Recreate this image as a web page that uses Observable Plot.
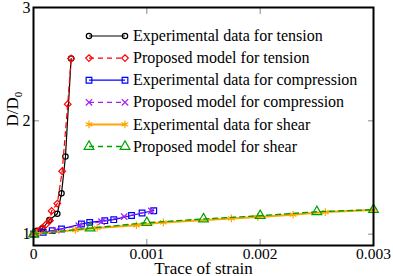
<!DOCTYPE html>
<html>
<head>
<meta charset="utf-8">
<script src="https://cdn.jsdelivr.net/npm/d3@7"></script>
<script src="https://cdn.jsdelivr.net/npm/@observablehq/plot@0.6"></script>
<style>
  html, body { margin: 0; padding: 0; background: #fff; }
  #chart { position: relative; width: 393px; height: 276px; }
  #chart svg, #chart svg text { font-family: "Liberation Serif", "Times New Roman", serif !important; }
</style>
</head>
<body>
<div id="chart"></div>
<script>
// ---- data ----
const tensionExpX = [0, 0.00003, 0.00008, 0.00014, 0.00021, 0.000247, 0.000282, 0.000332];
const tensionExpY = [1, 1.03, 1.05, 1.125, 1.18, 1.36, 1.685, 2.55];

const tensionModelX = [0, 0.00003, 0.00007, 0.00011, 0.000145, 0.00016, 0.00021, 0.000253, 0.000302, 0.000332];
const tensionModelY = [1, 1.02, 1.05, 1.085, 1.12, 1.205, 1.27, 1.555, 2.147, 2.55];

const compExpX = [0, 0.00002, 0.000086, 0.000165, 0.000247, 0.000423, 0.000496, 0.000629, 0.000708, 0.000865, 0.000958, 0.001061];
const compExpY = [1, 1.002, 1.016, 1.031, 1.046, 1.09, 1.104, 1.119, 1.128, 1.165, 1.187, 1.207];

const compModelX = [0, 0.0002, 0.0004, 0.0006, 0.0008, 0.00104];
const compModelY = [1, 1.035, 1.075, 1.11, 1.155, 1.205];

const shearExpX = [0, 0.00003, 0.00037, 0.000562, 0.000908, 0.001146, 0.001746, 0.00198, 0.00229, 0.002575, 0.003];
const shearExpY = [1, 1.003, 1.037, 1.055, 1.079, 1.104, 1.139, 1.152, 1.172, 1.195, 1.213];

const shearModelX = [0, 0.0005, 0.001, 0.0015, 0.002, 0.0025, 0.003];
const shearModelY = [1, 1.053, 1.101, 1.134, 1.163, 1.198, 1.216];

const xTicks = [0, 0.001, 0.002, 0.003];
const xTickLabels = ["0", "0.001", "0.002", "0.003"];
const yTicks = [1, 2, 3];
const yTickLabels = ["1", "2", "3"];

const seriesNames = [
  "Experimental data for tension",
  "Proposed model for tension",
  "Experimental data for compression",
  "Proposed model for compression",
  "Experimental data for shear",
  "Proposed model for shear"
];

// ---- styles ----
const styles = [
  {color: "#000000", symbol: "circle",   r: 2.7, dash: null,  width: 1.2},
  {color: "#ff0000", symbol: "diamond2", r: 3.0, dash: "5,4", width: 1.2},
  {color: "#0000ff", symbol: "square",   r: 3.2, dash: null,  width: 1.2},
  {color: "#a020f0", symbol: "times",    r: 3.0, dash: "5,4", width: 1.2},
  {color: "#ffa500", symbol: "asterisk", r: 3.6, dash: null,  width: 2.0},
  {color: "#00a000", symbol: "triangle", r: 3.6, dash: "5,4", width: 1.4}
];

const seriesXY = [
  [tensionExpX, tensionExpY],
  [tensionModelX, tensionModelY],
  [compExpX, compExpY],
  [compModelX, compModelY],
  [shearExpX, shearExpY],
  [shearModelX, shearModelY]
];
const tables = seriesXY.map(([xs, ys]) => xs.map((x, i) => ({x, y: ys[i]})));

const marks = [];
tables.forEach((data, k) => {
  const s = styles[k];
  marks.push(Plot.line(data, {x: "x", y: "y", stroke: s.color, strokeWidth: s.width, strokeDasharray: s.dash}));
  marks.push(Plot.dot(data, {x: "x", y: "y", symbol: s.symbol, r: s.r, stroke: s.color, fill: "none", strokeWidth: 1.2}));
});

const chart = Plot.plot({
  width: 393,
  height: 276,
  marginLeft: 33,
  marginRight: 20,
  marginTop: 7,
  marginBottom: 31,
  style: {fontFamily: "'Liberation Serif', 'Times New Roman', serif", fontSize: "16px", background: "#fff", overflow: "visible"},
  x: {domain: [0, 0.003]},
  y: {domain: [0.9, 3]},
  marks: [
    // inward ticks
    Plot.axisX({anchor: "bottom", ticks: [0.001, 0.002], tickSize: -6, tickFormat: () => "", label: null, stroke: "#888"}),
    Plot.axisX({anchor: "top", ticks: [0.001, 0.002], tickSize: -6, tickFormat: () => "", label: null, stroke: "#888"}),
    Plot.axisY({anchor: "left", ticks: [2], tickSize: -6, tickFormat: () => "", label: null, stroke: "#888"}),
    Plot.axisY({anchor: "right", ticks: [1, 2], tickSize: -6, tickFormat: () => "", label: null, stroke: "#888"}),
    // tick labels
    Plot.axisX({anchor: "bottom", ticks: xTicks, tickSize: 0, tickPadding: 2, fontSize: 15.5, fill: "#000",
      tickFormat: d => xTickLabels[xTicks.indexOf(d)], label: null}),
    Plot.axisY({anchor: "left", ticks: yTicks, tickSize: 0, tickPadding: 3, fontSize: 16, fill: "#000",
      tickFormat: d => yTickLabels[yTicks.indexOf(d)], label: null}),
    ...marks,
    Plot.frame({stroke: "#000", strokeWidth: 2}),
    Plot.text(["Trace of strain"], {frameAnchor: "bottom", dy: 28, fontSize: 17, fill: "#000", lineAnchor: "bottom"}),
    Plot.text(["D/D0"], {frameAnchor: "left", dx: -21, rotate: -90, fontSize: 17, fill: "#000", lineAnchor: "middle"})
  ]
});

document.getElementById("chart").appendChild(chart);

// subscript for the y label
const svg = d3.select(chart);
svg.selectAll("text").each(function() {
  const t = d3.select(this);
  if (t.text() === "D/D0") {
    t.text("D/D");
    t.append("tspan").attr("font-size", 11).attr("dy", 4).text("0");
  }
});

// legend inside the plot area
const legendX1 = 89, legendX2 = 125, legendTextX = 133, legendY0 = 36, legendStep = 22.1;
const symMap = {circle: d3.symbolCircle, diamond2: d3.symbolDiamond2, square: d3.symbolSquare,
  times: d3.symbolTimes, asterisk: d3.symbolAsterisk, triangle: d3.symbolTriangle};
const lg = svg.append("g").attr("font-size", 16).attr("text-anchor", "start");
seriesNames.forEach((name, k) => {
  const s = styles[k];
  const y = legendY0 + k * legendStep;
  lg.append("line").attr("x1", legendX1).attr("x2", legendX2).attr("y1", y).attr("y2", y)
    .attr("stroke", s.color).attr("stroke-width", s.width).attr("stroke-dasharray", s.dash);
  const path = d3.symbol(symMap[s.symbol], Math.PI * s.r * s.r)();
  [legendX1, legendX2].forEach(x => {
    lg.append("path").attr("d", path).attr("transform", `translate(${x},${y})`)
      .attr("fill", "none").attr("stroke", s.color).attr("stroke-width", 1.2);
  });
  lg.append("text").attr("x", legendTextX).attr("y", y).attr("dy", "0.32em")
    .attr("text-anchor", "start").attr("fill", "#000").text(name);
});
</script>
</body>
</html>
